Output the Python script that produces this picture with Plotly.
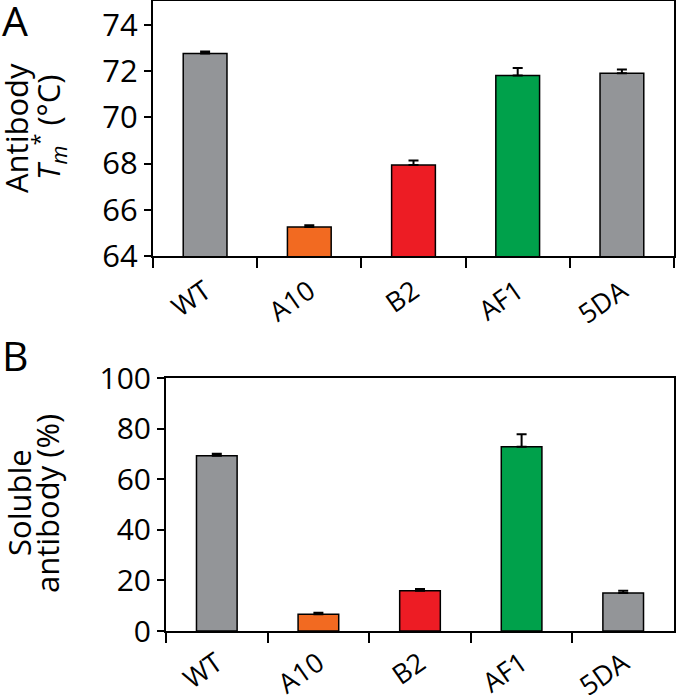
import plotly.graph_objects as go

categories = ["WT", "A10", "B2", "AF1", "5DA"]
colors = ["#939598", "#F26A21", "#ED1C24", "#00A14B", "#939598"]

tm_values = [72.77, 65.26, 67.94, 71.82, 71.91]
tm_errors = [0.08, 0.07, 0.20, 0.32, 0.16]

sol_values = [69.3, 6.6, 15.9, 72.8, 15.0]
sol_errors = [0.8, 0.6, 0.7, 5.0, 0.9]

W, H = 676, 699
FONT = "Open Sans"


def px(x):
    return x / W


def py(y):
    return 1 - y / H


fig = go.Figure()

fig.add_trace(go.Bar(
    x=categories, y=tm_values, xaxis="x", yaxis="y",
    marker=dict(color=colors, line=dict(color="black", width=1.5)),
    width=0.42,
    error_y=dict(type="data", symmetric=False, array=tm_errors,
                 arrayminus=[0] * len(tm_errors), color="black",
                 thickness=2, width=5),
    showlegend=False,
))
fig.add_trace(go.Bar(
    x=categories, y=sol_values, xaxis="x2", yaxis="y2",
    marker=dict(color=colors, line=dict(color="black", width=1.5)),
    width=0.40,
    error_y=dict(type="data", symmetric=False, array=sol_errors,
                 arrayminus=[0] * len(sol_errors), color="black",
                 thickness=2, width=5),
    showlegend=False,
))

axis_common = dict(showline=True, linecolor="black", linewidth=2, mirror=True,
                   ticks="outside", tickcolor="black", tickwidth=2,
                   showgrid=False, zeroline=False, automargin=False,
                   ticklabeloverflow="allow")

fig.update_layout(
    width=W, height=H,
    margin=dict(l=0, r=0, t=0, b=0),
    paper_bgcolor="white", plot_bgcolor="white",
    font=dict(family=FONT, color="black"),
    xaxis=dict(domain=[px(153), px(674)], anchor="y", type="category",
               tickson="boundaries", ticklen=10, tickangle=-35,
               ticklabelstandoff=7,
               tickfont=dict(size=27, family=FONT), **axis_common),
    yaxis=dict(domain=[py(256), py(1)], anchor="x",
               range=[64, 75.04], tickvals=[64, 66, 68, 70, 72, 74],
               ticklen=7, tickfont=dict(size=31, family=FONT), **axis_common),
    xaxis2=dict(domain=[px(166), px(674)], anchor="y2", type="category",
                tickson="boundaries", ticklen=10, tickangle=-35,
                ticklabelstandoff=4,
                tickfont=dict(size=27, family=FONT), **axis_common),
    yaxis2=dict(domain=[py(631), py(378)], anchor="x2",
                range=[0, 100], tickvals=[0, 20, 40, 60, 80, 100],
                ticklen=7, tickfont=dict(size=30, family=FONT), **axis_common),
)

annotations = [
    dict(text="A", x=px(0), y=py(20), xanchor="left", yanchor="middle",
         font=dict(size=41, family=FONT)),
    dict(text="B", x=px(0), y=py(355), xanchor="left", yanchor="middle",
         font=dict(size=41, family=FONT)),
    dict(text="Antibody", x=px(16), y=py(128), xanchor="center", yanchor="middle",
         textangle=-90, font=dict(size=31, family=FONT)),
    dict(text="<i>T</i><sub><i>m</i></sub><sup>*</sup> (°C)",
         x=px(48), y=py(128), xanchor="center", yanchor="middle",
         textangle=-90, font=dict(size=31, family=FONT)),
    dict(text="Soluble", x=px(19), y=py(503), xanchor="center", yanchor="middle",
         textangle=-90, font=dict(size=31, family=FONT)),
    dict(text="antibody (%)", x=px(47), y=py(503), xanchor="center", yanchor="middle",
         textangle=-90, font=dict(size=31, family=FONT)),
]
for a in annotations:
    a.update(xref="paper", yref="paper", showarrow=False)
fig.update_layout(annotations=annotations)

fig.write_html("out.html", config={"displayModeBar": False},
               post_script="document.body.style.margin='0px';")
